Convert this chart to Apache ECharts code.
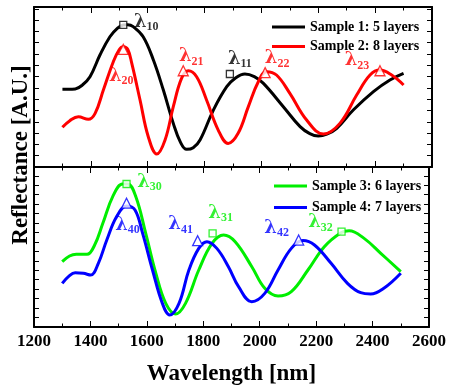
<!DOCTYPE html>
<html><head><meta charset="utf-8">
<script src="https://cdn.jsdelivr.net/npm/echarts@6/dist/echarts.min.js"></script>
<style>html,body{margin:0;padding:0;background:#fff}#c{width:449px;height:390px}</style>
</head><body><div id="c"></div>
<script>
// ---- data ----
const xTicks = [1200,1400,1600,1800,2000,2200,2400,2600];
const legendTop = ['Sample 1: 5 layers','Sample 2: 8 layers'];
const legendBottom = ['Sample 3: 6 layers','Sample 4: 7 layers'];

const s1Wave = [1300,1320,1345,1370,1397,1432,1467,1494,1514,1530,1549,1584,1620,1655,1690,1715,1737,1760,1784,1831,1878,1910,1942,1975,2007,2077,2136,2170,2200,2230,2265,2323,2394,2452,2500];
const s1Refl = [6.87,6.87,6.9,7.25,7.99,9.91,11.53,12.3,12.57,12.6,12.42,11.53,9.47,6.81,3.86,2.2,1.56,1.7,2.39,5.04,7.11,7.9,8.23,8.0,7.4,5.34,3.57,2.95,2.74,2.9,3.42,5.04,6.67,7.7,8.29];

const s2Wave = [1300,1326,1356,1391,1415,1444,1479,1500,1514,1530,1544,1573,1602,1632,1661,1690,1719,1743,1772,1807,1848,1883,1918,1954,1989,2018,2053,2100,2159,2218,2276,2335,2382,2417,2458,2500];
const s2Refl = [3.51,4.10,4.45,4.22,4.75,6.81,9.32,10.4,10.65,10.4,9.17,5.93,2.68,1.15,2.39,5.34,7.85,8.52,7.99,5.93,3.27,2.09,2.98,5.34,7.55,8.44,8.14,6.52,4.16,2.92,3.86,6.37,8.14,8.58,8.14,7.26];

const s3Wave = [1300,1326,1350,1388,1415,1444,1479,1514,1532,1561,1596,1632,1667,1702,1737,1784,1831,1872,1913,1972,2018,2065,2112,2171,2229,2288,2317,2370,2429,2500];
const s3Refl = [6.91,7.51,7.69,7.69,8.68,10.97,13.79,15.13,15.13,13.79,9.91,5.68,2.50,1.38,2.50,6.03,8.85,9.74,9.03,6.38,4.09,3.28,3.74,6.03,8.50,9.98,10.19,9.38,7.80,5.85];

const s4Wave = [1300,1322,1346,1375,1401,1428,1458,1493,1528,1558,1585,1620,1655,1681,1714,1749,1784,1813,1848,1889,1925,1972,2018,2065,2112,2153,2194,2253,2311,2358,2393,2440,2500];
const s4Refl = [4.62,5.33,5.75,5.68,5.50,6.74,9.21,11.68,12.80,12.38,9.91,6.03,2.50,1.27,2.50,6.03,8.32,9.03,8.32,6.38,4.27,2.68,3.56,6.03,8.32,9.14,8.68,6.74,4.62,3.63,3.49,4.09,5.68];

// peak markers
const p1Wave = [1514,1889], p1Refl = [12.57,8.23], p1Sub = ['10','11'];
const p2Wave = [1514,1725,2013,2417], p2Refl = [10.41,8.52,8.35,8.52], p2Sub = ['20','21','22','23'];
const p3Wave = [1528,1833,2290], p3Refl = [15.13,9.91,10.09], p3Sub = ['30','31','32'];
const p4Wave = [1528,1780,2138], p4Refl = [13.1,9.13,9.2], p4Sub = ['40','41','42'];

// ---- layout / style ----
const FONT = '"Liberation Serif","Times New Roman",serif';
const LFONT = '"DejaVu Serif","Liberation Serif",serif';
const C1 = '#000000', C2 = '#ff0000', C3 = '#00ee00', C4 = '#0000ff';
const labelOffsets = {
  '10':[23,-2], '11':[10,-14], '20':[-2,28], '21':[8,-13], '22':[12,-13], '23':[-23,-9],
  '30':[23,-1], '31':[8,-19], '32':[-21,-8], '40':[1,23], '41':[-17,-15], '42':[-22,-11]
};
const zip = (a,b) => a.map((v,i)=>[v,b[i]]);

function lineSeries(name, w, r, color, xi, yi){
  return {type:'line', name, data: zip(w,r), xAxisIndex: xi, yAxisIndex: yi,
    smooth: 0.4, symbol:'none', showSymbol:false, clip:true,
    lineStyle:{color, width:3}, itemStyle:{color}, z:3};
}
function peakSeries(w, r, subs, color, sym, size, xi, yi){
  return {type:'scatter', xAxisIndex: xi, yAxisIndex: yi, symbol: sym, symbolSize: size, z:5,
    itemStyle:{color:'#ffffff', borderColor: color, borderWidth:1.3},
    data: w.map((v,i)=>({value:[v, r[i]], label:{show:true, position:'inside', offset: labelOffsets[subs[i]],
      formatter: '{l|λ}{s|' + subs[i] + '}'}})),
    label:{show:true, color, fontFamily: FONT, fontWeight:'bold', align:'center', verticalAlign:'middle',
      rich:{ l:{fontSize:18, fontWeight:'bold', fontFamily:LFONT, color, lineHeight:20, verticalAlign:'top', padding:[0,0,8,0]},
             s:{fontSize:12, fontWeight:'bold', fontFamily:FONT, color, lineHeight:13, verticalAlign:'bottom'} }},
    emphasis:{disabled:true}, silent:true};
}

const axisLine = {show:true, onZero:false, lineStyle:{color:'#000', width:2}};
function xAxis(grid, pos, labels){
  const a = {type:'value', gridIndex:grid, position:pos, min:1200, max:2600, interval:200,
    axisLine, splitLine:{show:false},
    axisTick:{show:true, inside:true, length:6, lineStyle:{color:'#000', width:1}},
    minorTick:{show:true, splitNumber:2, length:3.5, lineStyle:{color:'#000', width:1}},
    axisLabel:{show:labels, color:'#000', fontFamily:FONT, fontWeight:'bold', fontSize:17, margin:6,
      formatter: v => xTicks.includes(v) ? String(v) : ''}};
  if (labels){
    a.name = 'Wavelength [nm]'; a.nameLocation = 'middle'; a.nameGap = 36;
    a.nameTextStyle = {color:'#000', fontFamily:FONT, fontWeight:'bold', fontSize:23};
  }
  return a;
}
function yAxis(grid, pos, max){
  return {type:'value', gridIndex:grid, position:pos, min:0, max, interval:1,
    axisLine, splitLine:{show:false}, axisLabel:{show:false},
    axisTick:{show:true, inside:true, length:5, lineStyle:{color:'#000', width:1}}};
}
const legendText = {color:'#000', fontFamily:FONT, fontWeight:'bold', fontSize:14, lineHeight:14};

const chart = echarts.init(document.getElementById('c'), null, {renderer:'canvas'});
chart.setOption({
  animation:false,
  backgroundColor:'#fff',
  grid:[{left:34, right:17, top:7, height:160}, {left:34, right:17, top:167, height:160}],
  xAxis:[xAxis(0,'bottom',false), xAxis(0,'top',false), xAxis(1,'top',false), xAxis(1,'bottom',true)],
  yAxis:[yAxis(0,'left',14.16), yAxis(0,'right',14.16), yAxis(1,'left',16.93), yAxis(1,'right',16.93)],
  legend:[
    {data:legendTop, orient:'vertical', left:267, top:15, icon:'rect', itemWidth:33, itemHeight:3, itemGap:5.5,
     textStyle:legendText, selectedMode:false},
    {data:legendBottom, orient:'vertical', left:269, top:174, icon:'rect', itemWidth:33, itemHeight:3, itemGap:7.5,
     textStyle:legendText, selectedMode:false}
  ],
  graphic:[{type:'text', x:21, y:155, rotation:Math.PI/2,
    style:{text:'Reflectance [A.U.]', fill:'#000', font:'bold 23px ' + FONT, align:'center', verticalAlign:'middle'}}],
  series:[
    lineSeries(legendTop[0], s1Wave, s1Refl, C1, 0, 0),
    lineSeries(legendTop[1], s2Wave, s2Refl, C2, 0, 0),
    lineSeries(legendBottom[0], s3Wave, s3Refl, C3, 3, 2),
    lineSeries(legendBottom[1], s4Wave, s4Refl, C4, 3, 2),
    peakSeries(p1Wave, p1Refl, p1Sub, C1, 'rect', 7, 0, 0),
    peakSeries(p2Wave, p2Refl, p2Sub, C2, 'triangle', 10, 0, 0),
    peakSeries(p3Wave, p3Refl, p3Sub, C3, 'rect', 7, 3, 2),
    peakSeries(p4Wave, p4Refl, p4Sub, C4, 'triangle', 10, 3, 2)
  ]
});
</script></body></html>
